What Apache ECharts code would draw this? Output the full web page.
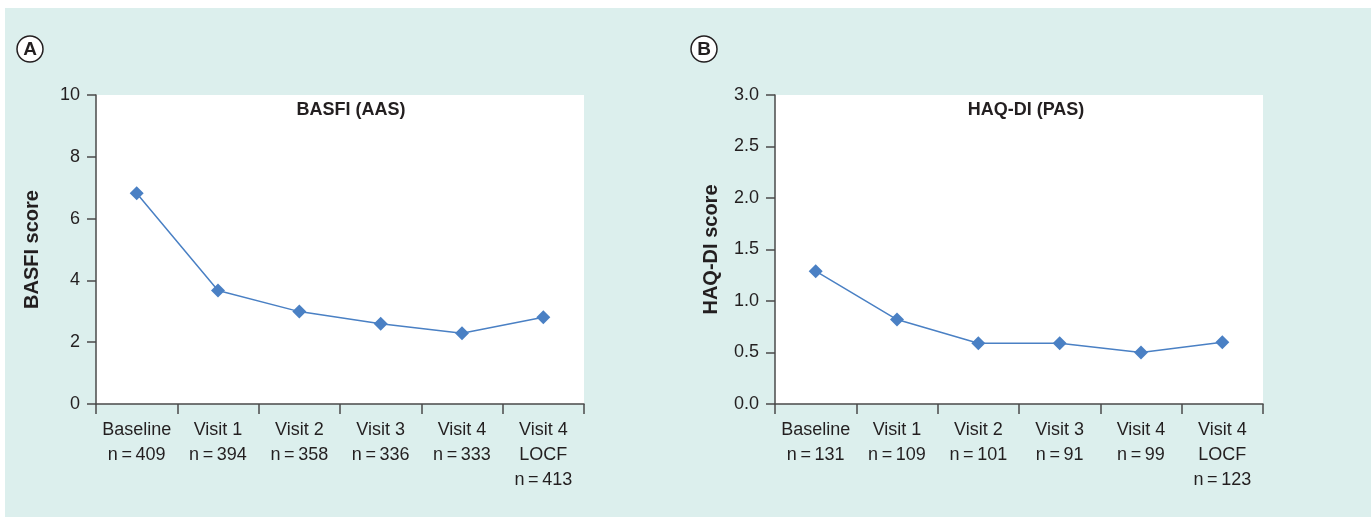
<!DOCTYPE html>
<html>
<head>
<meta charset="utf-8">
<script src="https://cdn.jsdelivr.net/npm/echarts@6/dist/echarts.min.js"></script>
<style>
html,body{margin:0;padding:0;background:#fff;}
#chart{width:1371px;height:517px;}
</style>
</head>
<body>
<div id="chart"></div>
<script>
const visits = ['Baseline', 'Visit 1', 'Visit 2', 'Visit 3', 'Visit 4', 'Visit 4\nLOCF'];
const nA = [409, 394, 358, 336, 333, 413];
const nB = [131, 109, 101, 91, 99, 123];
const basfi = [6.82, 3.67, 2.99, 2.60, 2.29, 2.81];
const haqdi = [1.29, 0.82, 0.59, 0.59, 0.50, 0.60];
const yTicksA = [0, 2, 4, 6, 8, 10];
const yTicksB = [0, 0.5, 1.0, 1.5, 2.0, 2.5, 3.0];

const catsA = visits.map((v, i) => v + '\nn\u2009=\u2009' + nA[i]);
const catsB = visits.map((v, i) => v + '\nn\u2009=\u2009' + nB[i]);

const txt = '#231f20';
const axisCol = '#4a4a4a';
const lineCol = '#4a80c4';
const font = 'Liberation Sans, Arial, sans-serif';

function xAxis(idx, cats) {
  return {
    type: 'category', gridIndex: idx, data: cats, boundaryGap: true,
    axisLine: {lineStyle: {color: axisCol, width: 1.5}},
    axisTick: {show: true, length: 10, lineStyle: {color: axisCol, width: 1.5}, alignWithLabel: false},
    axisLabel: {color: txt, fontSize: 18, fontFamily: font, lineHeight: 25, margin: 14, interval: 0}
  };
}
function yAxis(idx, ticks, name, dec) {
  return {
    type: 'value', gridIndex: idx, min: ticks[0], max: ticks[ticks.length - 1],
    interval: ticks[1] - ticks[0],
    name: name, nameLocation: 'middle', nameGap: 54, nameRotate: 90,
    nameTextStyle: {color: txt, fontSize: 20, fontWeight: 'bold', fontFamily: font},
    axisLine: {show: true, lineStyle: {color: axisCol, width: 1.5}},
    axisTick: {show: true, length: 9, lineStyle: {color: axisCol, width: 1.5}},
    axisLabel: {color: txt, fontSize: 18, fontFamily: font, margin: 16,
      formatter: v => dec ? v.toFixed(1) : String(v)},
    splitLine: {show: false}
  };
}

const chart = echarts.init(document.getElementById('chart'), null, {renderer: 'canvas'});
chart.setOption({
  backgroundColor: '#ffffff',
  animation: false,
  graphic: [
    {type: 'rect', z: -10, shape: {x: 5, y: 8, width: 1366, height: 509}, style: {fill: '#dcefed'}},
    {type: 'circle', shape: {cx: 30, cy: 49, r: 13}, style: {fill: '#ffffff', stroke: '#231f20', lineWidth: 1.5}},
    {type: 'text', x: 30, y: 50, style: {text: 'A', fill: '#231f20', font: 'bold 19px Liberation Sans, Arial', align: 'center', verticalAlign: 'middle'}},
    {type: 'circle', shape: {cx: 704, cy: 49, r: 13}, style: {fill: '#ffffff', stroke: '#231f20', lineWidth: 1.5}},
    {type: 'text', x: 704, y: 50, style: {text: 'B', fill: '#231f20', font: 'bold 19px Liberation Sans, Arial', align: 'center', verticalAlign: 'middle'}}
  ],
  title: [
    {text: 'BASFI (AAS)', left: 346, top: 96, textAlign: 'center',
      textStyle: {color: txt, fontSize: 18, fontWeight: 'bold', fontFamily: font}},
    {text: 'HAQ-DI (PAS)', left: 1021, top: 96, textAlign: 'center',
      textStyle: {color: txt, fontSize: 18, fontWeight: 'bold', fontFamily: font}}
  ],
  grid: [
    {left: 96, right: 787, top: 95, bottom: 113, show: true, backgroundColor: '#ffffff', borderWidth: 0},
    {left: 775, right: 108, top: 95, bottom: 113, show: true, backgroundColor: '#ffffff', borderWidth: 0}
  ],
  xAxis: [xAxis(0, catsA), xAxis(1, catsB)],
  yAxis: [yAxis(0, yTicksA, 'BASFI score', false), yAxis(1, yTicksB, 'HAQ-DI score', true)],
  series: [
    {type: 'line', xAxisIndex: 0, yAxisIndex: 0, data: basfi, symbol: 'diamond', symbolSize: 14,
      lineStyle: {color: lineCol, width: 1.5}, itemStyle: {color: lineCol}},
    {type: 'line', xAxisIndex: 1, yAxisIndex: 1, data: haqdi, symbol: 'diamond', symbolSize: 14,
      lineStyle: {color: lineCol, width: 1.5}, itemStyle: {color: lineCol}}
  ]
});
</script>
</body>
</html>
